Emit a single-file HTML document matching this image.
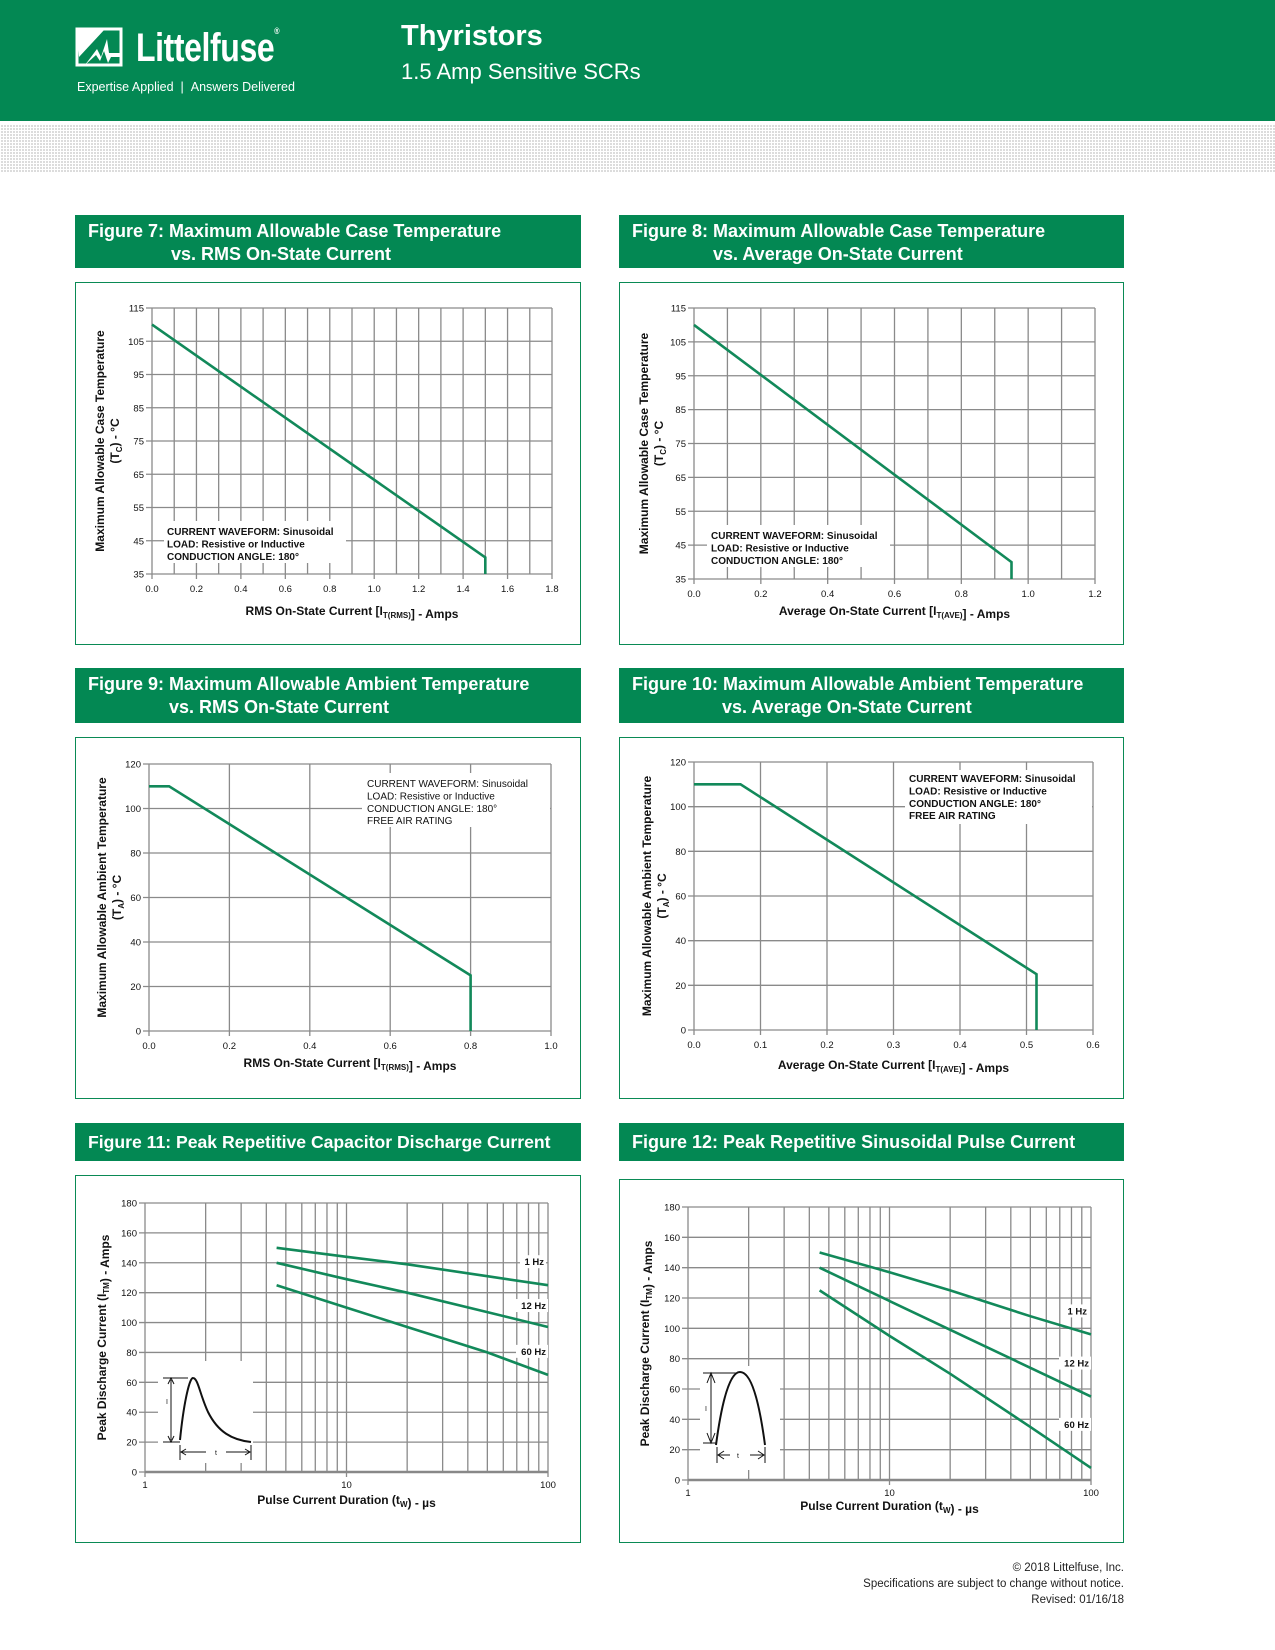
<!DOCTYPE html>
<html><head><meta charset="utf-8">
<style>
*{margin:0;padding:0;box-sizing:border-box}
body{width:1275px;height:1650px;background:#fff;position:relative;font-family:"Liberation Sans",sans-serif;overflow:hidden}
.hdr{position:absolute;left:0;top:0;width:1275px;height:121px;background:#038853}
.band{position:absolute;left:0;top:124px;width:1275px;height:49px;
background-image:repeating-linear-gradient(90deg,#fff 0 1px,transparent 1px 3px),repeating-linear-gradient(0deg,#fff 0 1px,#dcdcdc 1px 3px)}
.tbar{position:absolute;background:#038853;color:#fff;font-weight:bold;font-size:18px;line-height:23px;padding:5px 0 0 13px;font-family:"Liberation Sans Narrow","Liberation Sans",sans-serif;white-space:nowrap;overflow:hidden}
.box{position:absolute;border:1.5px solid #0a8a55}
svg{position:absolute;left:0;top:0}
.foot{position:absolute;right:151px;font-size:11.5px;color:#222;text-align:right;font-family:"Liberation Sans Narrow","Liberation Sans",sans-serif}
</style></head><body>
<div class="hdr">
  <svg width="50" height="42" style="left:75px;top:27px" viewBox="0 0 50 42">
    <path d="M2 2 H46 V38 H2 Z" fill="none" stroke="#fff" stroke-width="3"/>
    <path d="M2 2 H30 L4 30 Z" fill="#fff"/>
    <path d="M10 38 L22 22 L26 30 L32 12 L34 26 L46 26 V30 L36 30 L33 36 L29 24 L25 34 L21 28 Z" fill="#fff"/>
  </svg>
  <div style="position:absolute;left:136px;top:26px;color:#fff;font-weight:bold;font-size:40px;font-family:'Liberation Sans Narrow','Liberation Sans',sans-serif;letter-spacing:-0.5px;transform:scaleX(0.8);transform-origin:0 0">Littelfuse<sup style="font-size:9px;vertical-align:top">®</sup></div>
  <div style="position:absolute;left:77px;top:80px;color:#fff;font-size:12.5px;font-family:'Liberation Sans Narrow','Liberation Sans',sans-serif">Expertise Applied&nbsp; | &nbsp;Answers Delivered</div>
  <div style="position:absolute;left:401px;top:20px;color:#fff;font-weight:bold;font-size:29px">Thyristors</div>
  <div style="position:absolute;left:401px;top:59px;color:#fff;font-size:22px;font-family:'Liberation Sans Narrow','Liberation Sans',sans-serif">1.5 Amp Sensitive SCRs</div>
</div>
<div class="band"></div>

<div class="tbar" style="left:75px;top:215px;width:506px;height:53px">Figure 7: Maximum Allowable Case Temperature<br><span style="padding-left:83px">vs. RMS On-State Current</span></div>
<div class="tbar" style="left:619px;top:215px;width:505px;height:53px">Figure 8: Maximum Allowable Case Temperature<br><span style="padding-left:81px">vs. Average On-State Current</span></div>
<div class="tbar" style="left:75px;top:668px;width:506px;height:55px">Figure 9: Maximum Allowable Ambient Temperature<br><span style="padding-left:81px">vs. RMS On-State Current</span></div>
<div class="tbar" style="left:619px;top:668px;width:505px;height:55px">Figure 10: Maximum Allowable Ambient Temperature<br><span style="padding-left:90px">vs. Average On-State Current</span></div>
<div class="tbar" style="left:75px;top:1123px;width:506px;height:38px;padding-top:8px;font-size:17.6px">Figure 11: Peak Repetitive Capacitor Discharge Current</div>
<div class="tbar" style="left:619px;top:1123px;width:505px;height:38px;padding-top:8px">Figure 12: Peak Repetitive Sinusoidal Pulse Current</div>

<div class="box" style="left:75px;top:282px;width:506px;height:363px"></div>
<div class="box" style="left:619px;top:282px;width:505px;height:363px"></div>
<div class="box" style="left:75px;top:737px;width:506px;height:362px"></div>
<div class="box" style="left:619px;top:737px;width:505px;height:362px"></div>
<div class="box" style="left:75px;top:1175px;width:506px;height:368px"></div>
<div class="box" style="left:619px;top:1179px;width:505px;height:364px"></div>

<svg id="charts" width="1275" height="1650" xmlns="http://www.w3.org/2000/svg"></svg>

<div class="foot" style="top:1562px">© 2018 Littelfuse, Inc.</div>
<div class="foot" style="top:1578px">Specifications are subject to change without notice.</div>
<div class="foot" style="top:1594px">Revised: 01/16/18</div>

<script>
// ---- data ----
const f7X=[0,1.5,1.5]; const f7Y=[110,40,35];
const f7XTicks=[0,0.2,0.4,0.6,0.8,1.0,1.2,1.4,1.6,1.8];
const f7XGrid=[0,0.1,0.2,0.3,0.4,0.5,0.6,0.7,0.8,0.9,1.0,1.1,1.2,1.3,1.4,1.5,1.6,1.7,1.8];
const f7YTicks=[35,45,55,65,75,85,95,105,115];
const f8X=[0,0.95,0.95]; const f8Y=[110,40,35];
const f8XTicks=[0,0.2,0.4,0.6,0.8,1.0,1.2];
const f8XGrid=[0,0.1,0.2,0.3,0.4,0.5,0.6,0.7,0.8,0.9,1.0,1.1,1.2];
const f8YTicks=[35,45,55,65,75,85,95,105,115];
const f9X=[0,0.05,0.8,0.8]; const f9Y=[110,110,25,0];
const f9XTicks=[0,0.2,0.4,0.6,0.8,1.0];
const f9YTicks=[0,20,40,60,80,100,120];
const f10X=[0,0.07,0.515,0.515]; const f10Y=[110,110,25,0];
const f10XTicks=[0,0.1,0.2,0.3,0.4,0.5,0.6];
const f10YTicks=[0,20,40,60,80,100,120];
const pulseX=[4.5,10,20,50,100];
const f11Hz1=[150,144,139,131,125];
const f11Hz12=[140,129,120,107,97];
const f11Hz60=[125,110,97,80,65];
const f12Hz1=[150,137,125,108,96];
const f12Hz12=[140,118,99,74,55];
const f12Hz60=[125,95,70,35,8];
const logTicks=[1,10,100];
const logGrid=[1,2,3,4,5,6,7,8,9,10,20,30,40,50,60,70,80,90,100];
const pulseYTicks=[0,20,40,60,80,100,120,140,160,180];
const seriesNames=['1 Hz','12 Hz','60 Hz'];

const NS='http://www.w3.org/2000/svg';
const svg=document.getElementById('charts');
function el(tag,attrs,parent){const e=document.createElementNS(NS,tag);for(const k in attrs)e.setAttribute(k,attrs[k]);(parent||svg).appendChild(e);return e;}
function txt(s,x,y,size,anchor,weight,parent){const t=el('text',{x:x,y:y,'font-size':size,'text-anchor':anchor||'start','font-weight':weight||'normal','font-family':'Liberation Sans, sans-serif',fill:'#111'},parent);t.textContent=s;return t;}

function chart(c){
  const g=el('g',{});
  
  
  const lx=c.log?Math.log10(c.xmin):c.xmin, hx=c.log?Math.log10(c.xmax):c.xmax;
  const sx=v=>c.x0+((c.log?Math.log10(v):v)-lx)/(hx-lx)*(c.x1-c.x0);
  const sy=v=>c.y1-(v-c.ymin)/(c.ymax-c.ymin)*(c.y1-c.y0);
  (c.xGrid||c.xTicks).forEach(v=>{const l=el('line',{x1:sx(v),x2:sx(v),y1:c.y0,y2:c.y1,stroke:'#8a8a8a','stroke-width':1.3},g);
    
    });
  c.yTicks.forEach(v=>{const l=el('line',{x1:c.x0-6,x2:c.x1,y1:sy(v),y2:sy(v),stroke:'#8a8a8a','stroke-width':1.3},g);
    
    
    const t=txt(String(v),c.x0-8,sy(v)+3.5,9.5,'end','normal',g);
    
    });
  c.xTicks.forEach(v=>{
    const t=txt(c.fmt?c.fmt(v):String(v),sx(v),c.y1+(c.log?16:18),9.5,'middle','normal',g);
    
    
    const tk=el('line',{x1:sx(v),x2:sx(v),y1:c.y1,y2:c.y1+5,stroke:'#8a8a8a','stroke-width':1.3},g);
    
    });
  if(c.log){const b=el('line',{x1:c.x0,x2:c.x1,y1:c.y1,y2:c.y1,stroke:'#888','stroke-width':2.5},g);
    
    }
  if(c.white){c.white.forEach(r=>{const w=el('rect',{x:r[0],y:r[1],width:r[2],height:r[3],fill:'#fff'},g);
    
    });}
  c.series.forEach((s,i)=>{
    const d=s.x.map((v,j)=>(j?'L':'M')+sx(v).toFixed(1)+' '+sy(s.y[j]).toFixed(1)).join(' ');
    const p=el('path',{d:d,fill:'none',stroke:'#12895a','stroke-width':2.6},g);
    
    
  });
  const xt=el('text',{x:(c.x0+c.x1)/2,y:c.xtY,'font-size':12,'text-anchor':'middle','font-weight':'bold','font-family':'Liberation Sans, sans-serif',fill:'#111'},g);
  xt.innerHTML=c.xTitle;
  
  
  c.yTitle.forEach((s,i)=>{const cy=(c.y0+c.y1)/2;const yt=el('text',{x:0,y:0,'font-size':12,'text-anchor':'middle','font-weight':'bold','font-family':'Liberation Sans, sans-serif',fill:'#111',transform:'translate('+c.ytX[i]+','+cy+') rotate(-90)'},g);
    yt.innerHTML=s;
    
    });
  if(c.note){c.note.forEach((s,i)=>{const t=txt(s,c.noteX,c.noteY+i*12.4,10,'start',c.noteW,g);
    
    });}
  return {g,sx,sy};
}
const sub=(a,b)=>a+'<tspan font-size="8" dy="3">'+b+'</tspan><tspan dy="-3">';
const f1=v=>v.toFixed(1);

chart({name:'figure7-chart',x0:152,x1:552,y0:308,y1:574,xmin:0,xmax:1.8,ymin:35,ymax:115,xTicks:f7XTicks,xGrid:f7XGrid,yTicks:f7YTicks,fmt:f1,
  series:[{name:'case-temp-line',x:f7X,y:f7Y}],white:[[164,521,182,42]],
  note:['CURRENT WAVEFORM: Sinusoidal','LOAD: Resistive or Inductive','CONDUCTION ANGLE: 180°'],noteX:167,noteY:535,noteW:'bold',
  xtY:615,xTitle:'RMS On-State Current ['+sub('I','T(RMS)')+'</tspan>] - Amps',ytX:[104,119],yTitle:['Maximum Allowable Case Temperature','('+sub('T','C')+') - °C</tspan>']});
chart({name:'figure8-chart',x0:694,x1:1095,y0:308,y1:579,xmin:0,xmax:1.2,ymin:35,ymax:115,xTicks:f8XTicks,xGrid:f8XGrid,yTicks:f8YTicks,fmt:f1,
  series:[{name:'case-temp-line',x:f8X,y:f8Y}],white:[[707,525,183,42]],
  note:['CURRENT WAVEFORM: Sinusoidal','LOAD: Resistive or Inductive','CONDUCTION ANGLE: 180°'],noteX:711,noteY:539,noteW:'bold',
  xtY:615,xTitle:'Average On-State Current ['+sub('I','T(AVE)')+'</tspan>] - Amps',ytX:[648,663],yTitle:['Maximum Allowable Case Temperature','('+sub('T','C')+') - °C</tspan>']});
chart({name:'figure9-chart',x0:149,x1:551,y0:764,y1:1031,xmin:0,xmax:1.0,ymin:0,ymax:120,xTicks:f9XTicks,yTicks:f9YTicks,fmt:f1,
  series:[{name:'ambient-temp-line',x:f9X,y:f9Y}],white:[[362,773,188,54]],
  note:['CURRENT WAVEFORM: Sinusoidal','LOAD: Resistive or Inductive','CONDUCTION ANGLE: 180°','FREE AIR RATING'],noteX:367,noteY:787,noteW:'normal',
  xtY:1067,xTitle:'RMS On-State Current ['+sub('I','T(RMS)')+'</tspan>] - Amps',ytX:[106,121],yTitle:['Maximum Allowable Ambient Temperature','('+sub('T','A')+') - °C</tspan>']});
chart({name:'figure10-chart',x0:694,x1:1093,y0:762,y1:1030,xmin:0,xmax:0.6,ymin:0,ymax:120,xTicks:f10XTicks,yTicks:f10YTicks,fmt:f1,
  series:[{name:'ambient-temp-line',x:f10X,y:f10Y}],white:[[905,770,187,54]],
  note:['CURRENT WAVEFORM: Sinusoidal','LOAD: Resistive or Inductive','CONDUCTION ANGLE: 180°','FREE AIR RATING'],noteX:909,noteY:782,noteW:'bold',
  xtY:1069,xTitle:'Average On-State Current ['+sub('I','T(AVE)')+'</tspan>] - Amps',ytX:[651,666],yTitle:['Maximum Allowable Ambient Temperature','('+sub('T','A')+') - °C</tspan>']});

function pulseChart(name,x0,x1,y0,y1,data,insetRect,xtY,ytX,sine){
  const c=chart({name:name,log:true,x0:x0,x1:x1,y0:y0,y1:y1,xmin:1,xmax:100,ymin:0,ymax:180,xTicks:logTicks,xGrid:logGrid,yTicks:pulseYTicks,
    series:data.map((d,i)=>({name:'series-'+seriesNames[i].replace(' ','').toLowerCase(),x:pulseX,y:d})),white:[insetRect],
    xtY:xtY,xTitle:'Pulse Current Duration ('+sub('t','W')+'</tspan>) - µs',ytX:[ytX],yTitle:['Peak Discharge Current ('+sub('I','TM')+'</tspan>) - Amps']});
  data.forEach((d,i)=>{
    const yy=c.sy(d[d.length-1])-(sine?[20,30,40][i]:[20,18,20][i]);
    const xx=x1-(i==0?24:28);
    const r=el('rect',{x:xx-4,y:yy-10,width:i==0?26:32,height:13,fill:'#fff'},c.g);
    
    
    const t=txt(seriesNames[i],xx+(i==0?20:26),yy,9.5,'end','bold',c.g);
    
    
  });
  return c;
}
const c11=pulseChart('figure11-chart',145,548,1203,1472,[f11Hz1,f11Hz12,f11Hz60],[158,1361,95,102],1504,106,false);
const c12=pulseChart('figure12-chart',688,1091,1207,1480,[f12Hz1,f12Hz12,f12Hz60],[700,1366,80,104],1510,649,true);

function inset(g,d,extra){const p=el('path',{d:d,fill:'none',stroke:'#111','stroke-width':2},g);
  
  
  extra.forEach(e=>{const l=el('path',{d:e,fill:'none',stroke:'#111','stroke-width':1},g);
    
    });}
inset(c11.g,'M180 1440 C184 1400 190 1377 193 1378 C198 1378 200 1395 208 1412 C218 1432 232 1440 251 1442',
  ['M163 1378 H188 M163 1442 H180 M171 1380 V1440 M168 1384 L171 1378 L174 1384 M168 1436 L171 1442 L174 1436',
   'M180 1445 V1460 M251 1445 V1460 M181 1452 H206 M226 1452 H250 M186 1449 L181 1452 L186 1455 M245 1449 L250 1452 L245 1455']);
txt('I',166,1404,7,'start','normal',c11.g);txt('t',215,1455,7,'start','normal',c11.g);
inset(c12.g,'M716 1445 C722 1400 730 1372 740 1372 C751 1372 759 1400 765 1445',
  ['M703 1373 H738 M703 1443 H717 M711 1375 V1441 M707 1383 L711 1373 L715 1383 M707 1433 L711 1443 L715 1433',
   'M717 1447 V1463 M765 1447 V1463 M718 1455 H730 M750 1455 H764 M724 1451 L718 1455 L724 1459 M758 1451 L764 1455 L758 1459']);
txt('I',705,1411,7,'start','normal',c12.g);txt('t',737,1458,7,'start','normal',c12.g);
</script>
</body></html>
